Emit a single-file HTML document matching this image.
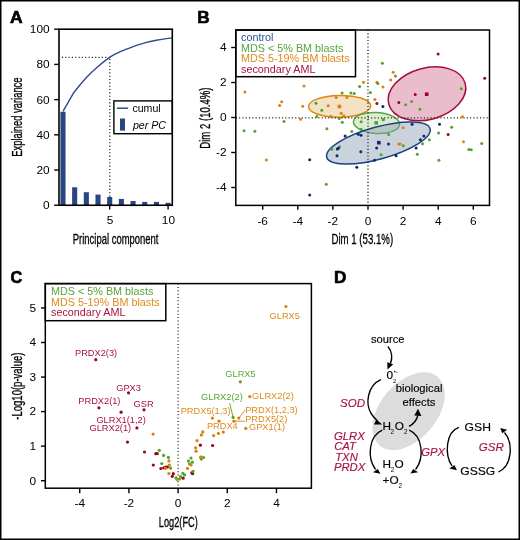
<!DOCTYPE html>
<html><head><meta charset="utf-8"><style>
html,body{margin:0;padding:0;background:#fff;}
svg{display:block;will-change:transform;}
text{font-family:"Liberation Sans", sans-serif;}
</style></head><body>
<svg width="520" height="540" viewBox="0 0 520 540" font-family='"Liberation Sans", sans-serif'>
<rect width="520" height="540" fill="#fff"/>
<rect x="0.75" y="0.75" width="518.5" height="538.5" fill="none" stroke="#000" stroke-width="1.5"/>
<text transform="translate(9.90,22.80) scale(1.12,1)" font-size="15.6" fill="#000" font-weight="bold" stroke="#000" stroke-width="0.6">A</text>
<text transform="translate(197.20,23.10) scale(1.1,1)" font-size="15.6" fill="#000" font-weight="bold" stroke="#000" stroke-width="0.6">B</text>
<text transform="translate(10.40,283.10) scale(1.04,1)" font-size="15.6" fill="#000" font-weight="bold" stroke="#000" stroke-width="0.6">C</text>
<text transform="translate(333.90,283.00) scale(1.1,1)" font-size="15.6" fill="#000" font-weight="bold" stroke="#000" stroke-width="0.6">D</text>
<line x1="61.90" y1="57.40" x2="109.70" y2="57.40" stroke="#222" stroke-width="1.3" stroke-dasharray="1.1 2.23"/>
<line x1="109.80" y1="59.00" x2="109.80" y2="205.00" stroke="#222" stroke-width="1.3" stroke-dasharray="1.1 2.23"/>
<rect x="60.43" y="111.77" width="5.1" height="93.48" fill="#2a4682"/>
<rect x="72.11" y="187.29" width="5.1" height="17.96" fill="#2a4682"/>
<rect x="83.79" y="192.22" width="5.1" height="13.03" fill="#2a4682"/>
<rect x="95.47" y="194.60" width="5.1" height="10.65" fill="#2a4682"/>
<rect x="107.15" y="196.99" width="5.1" height="8.26" fill="#2a4682"/>
<rect x="118.83" y="198.91" width="5.1" height="6.34" fill="#2a4682"/>
<rect x="130.51" y="201.02" width="5.1" height="4.23" fill="#2a4682"/>
<rect x="142.19" y="201.91" width="5.1" height="3.34" fill="#2a4682"/>
<rect x="153.87" y="201.91" width="5.1" height="3.34" fill="#2a4682"/>
<rect x="165.55" y="202.79" width="5.1" height="2.46" fill="#2a4682"/>
<clipPath id="clipA"><rect x="59" y="29" width="113.3" height="176.3"/></clipPath>
<path d="M63.0,111.4 L73.6,92.8 L73.60,92.80 C75.73,90.27 82.33,81.98 86.40,77.60 C90.47,73.22 94.12,69.88 98.00,66.50 C101.88,63.12 105.80,59.85 109.70,57.30 C113.60,54.75 117.50,52.97 121.40,51.20 C125.30,49.43 129.22,48.08 133.10,46.70 C136.98,45.32 140.82,43.98 144.70,42.90 C148.58,41.82 152.50,40.95 156.40,40.20 C160.30,39.45 164.20,38.90 168.10,38.40 C172.00,37.90 177.85,37.40 179.80,37.20" fill="none" stroke="#2e4c8c" stroke-width="1.4" stroke-linejoin="round" clip-path="url(#clipA)"/>
<rect x="113.9" y="100.9" width="58.4" height="32.8" fill="#fff" stroke="#000" stroke-width="1.4"/>
<line x1="116.90" y1="108.20" x2="128.10" y2="108.20" stroke="#2e4c8c" stroke-width="1.5"/>
<rect x="120" y="118.5" width="5" height="12.1" fill="#2a4682"/>
<text transform="translate(132.40,111.90)" font-size="10.6" fill="#000">cumul</text>
<text transform="translate(132.90,128.90)" font-size="10.6" fill="#000" font-style="italic">per PC</text>
<rect x="59.0" y="29.2" width="113.30" height="176.05" fill="none" stroke="#000" stroke-width="1.6"/>
<line x1="54.20" y1="205.25" x2="59.00" y2="205.25" stroke="#000" stroke-width="1.4"/>
<text transform="translate(49.60,209.15) scale(1.1,1)" font-size="10.8" fill="#000" text-anchor="end">0</text>
<line x1="54.20" y1="170.04" x2="59.00" y2="170.04" stroke="#000" stroke-width="1.4"/>
<text transform="translate(49.60,173.94) scale(1.1,1)" font-size="10.8" fill="#000" text-anchor="end">20</text>
<line x1="54.20" y1="134.83" x2="59.00" y2="134.83" stroke="#000" stroke-width="1.4"/>
<text transform="translate(49.60,138.73) scale(1.1,1)" font-size="10.8" fill="#000" text-anchor="end">40</text>
<line x1="54.20" y1="99.62" x2="59.00" y2="99.62" stroke="#000" stroke-width="1.4"/>
<text transform="translate(49.60,103.52) scale(1.1,1)" font-size="10.8" fill="#000" text-anchor="end">60</text>
<line x1="54.20" y1="64.41" x2="59.00" y2="64.41" stroke="#000" stroke-width="1.4"/>
<text transform="translate(49.60,68.31) scale(1.1,1)" font-size="10.8" fill="#000" text-anchor="end">80</text>
<line x1="54.20" y1="29.20" x2="59.00" y2="29.20" stroke="#000" stroke-width="1.4"/>
<text transform="translate(49.60,33.10) scale(1.1,1)" font-size="10.8" fill="#000" text-anchor="end">100</text>
<line x1="109.70" y1="205.25" x2="109.70" y2="209.50" stroke="#000" stroke-width="1.4"/>
<text transform="translate(110.00,223.90) scale(1.1,1)" font-size="10.8" fill="#000" text-anchor="middle">5</text>
<line x1="168.10" y1="205.25" x2="168.10" y2="209.50" stroke="#000" stroke-width="1.4"/>
<text transform="translate(168.40,223.90) scale(1.1,1)" font-size="10.8" fill="#000" text-anchor="middle">10</text>
<text transform="translate(115.60,243.90) scale(0.677,1)" font-size="14" fill="#000" text-anchor="middle" stroke="#000" stroke-width="0.3">Principal component</text>
<text transform="translate(22.20,117.10) rotate(-90) scale(0.67,1)" font-size="14" fill="#000" text-anchor="middle" stroke="#000" stroke-width="0.3">Explained variance</text>
<ellipse cx="339.6" cy="106.3" rx="31.1" ry="10.9" transform="rotate(-0.8 339.6 106.3)" fill="#ebca94" fill-opacity="0.55" stroke="#dc8510" stroke-width="1.5"/>
<ellipse cx="376.5" cy="123.0" rx="23.1" ry="10.4" transform="rotate(3.6 376.5 123.0)" fill="#b9d9a6" fill-opacity="0.5" stroke="#5aa53f" stroke-width="1.5"/>
<ellipse cx="378.4" cy="143.0" rx="53.6" ry="16.0" transform="rotate(-15.35 378.4 143.0)" fill="#899bb6" fill-opacity="0.45" stroke="#1f3f80" stroke-width="1.5"/>
<ellipse cx="427.0" cy="93.8" rx="39.6" ry="25.8" transform="rotate(-15.2 427.0 93.8)" fill="#d47c98" fill-opacity="0.5" stroke="#a80d3a" stroke-width="1.5"/>
<line x1="235.80" y1="117.80" x2="489.50" y2="117.80" stroke="#222" stroke-width="1.3" stroke-dasharray="1.1 2.2"/>
<line x1="368.00" y1="30.00" x2="368.00" y2="205.40" stroke="#222" stroke-width="1.3" stroke-dasharray="1.1 2.2"/>
<circle cx="244.9" cy="92.1" r="1.5" fill="#db8008"/>
<circle cx="304.0" cy="86.0" r="1.5" fill="#db8008"/>
<circle cx="281.7" cy="101.7" r="1.5" fill="#db8008"/>
<circle cx="279.6" cy="105.5" r="1.5" fill="#db8008"/>
<circle cx="302.7" cy="106.3" r="1.5" fill="#db8008"/>
<circle cx="300.5" cy="119.3" r="1.5" fill="#db8008"/>
<circle cx="266.4" cy="160.0" r="1.5" fill="#db8008"/>
<circle cx="363.5" cy="82.3" r="1.5" fill="#db8008"/>
<circle cx="376.9" cy="82.3" r="1.5" fill="#db8008"/>
<circle cx="374.9" cy="99.4" r="1.5" fill="#db8008"/>
<circle cx="336.2" cy="97.5" r="1.5" fill="#db8008"/>
<circle cx="346.9" cy="97.6" r="1.5" fill="#db8008"/>
<circle cx="328.2" cy="105.7" r="1.5" fill="#db8008"/>
<circle cx="341.2" cy="113.2" r="1.5" fill="#db8008"/>
<circle cx="343.8" cy="115.8" r="1.5" fill="#db8008"/>
<circle cx="330.8" cy="116.3" r="1.5" fill="#db8008"/>
<circle cx="393.2" cy="72.3" r="1.5" fill="#db8008"/>
<circle cx="390.7" cy="80.1" r="1.5" fill="#db8008"/>
<circle cx="383.0" cy="87.1" r="1.5" fill="#db8008"/>
<circle cx="403.1" cy="127.7" r="1.5" fill="#db8008"/>
<circle cx="462.5" cy="116.8" r="1.5" fill="#db8008"/>
<circle cx="398.9" cy="143.9" r="1.5" fill="#db8008"/>
<circle cx="463.5" cy="141.7" r="1.5" fill="#db8008"/>
<circle cx="400.0" cy="144.0" r="1.5" fill="#db8008"/>
<circle cx="316.0" cy="103.3" r="1.5" fill="#4ea52a"/>
<circle cx="316.8" cy="116.4" r="1.5" fill="#4ea52a"/>
<circle cx="284.0" cy="121.4" r="1.5" fill="#4ea52a"/>
<circle cx="244.1" cy="130.7" r="1.5" fill="#4ea52a"/>
<circle cx="254.9" cy="131.2" r="1.5" fill="#4ea52a"/>
<circle cx="359.6" cy="86.4" r="1.5" fill="#4ea52a"/>
<circle cx="342.1" cy="92.9" r="1.5" fill="#4ea52a"/>
<circle cx="350.9" cy="93.1" r="1.5" fill="#4ea52a"/>
<circle cx="354.2" cy="93.4" r="1.5" fill="#4ea52a"/>
<circle cx="370.4" cy="92.5" r="1.5" fill="#4ea52a"/>
<circle cx="377.9" cy="83.6" r="1.5" fill="#4ea52a"/>
<circle cx="321.8" cy="110.2" r="1.5" fill="#4ea52a"/>
<circle cx="339.1" cy="118.5" r="1.5" fill="#4ea52a"/>
<circle cx="342.3" cy="122.3" r="1.5" fill="#4ea52a"/>
<circle cx="361.2" cy="121.7" r="1.5" fill="#4ea52a"/>
<circle cx="326.9" cy="128.8" r="1.5" fill="#4ea52a"/>
<circle cx="351.8" cy="131.6" r="1.5" fill="#4ea52a"/>
<circle cx="361.1" cy="129.3" r="1.5" fill="#4ea52a"/>
<circle cx="383.1" cy="119.7" r="1.5" fill="#4ea52a"/>
<circle cx="388.7" cy="134.4" r="1.5" fill="#4ea52a"/>
<circle cx="382.4" cy="63.3" r="1.5" fill="#4ea52a"/>
<circle cx="395.4" cy="76.1" r="1.5" fill="#4ea52a"/>
<circle cx="461.2" cy="88.8" r="1.5" fill="#4ea52a"/>
<circle cx="411.6" cy="101.4" r="1.5" fill="#4ea52a"/>
<circle cx="405.7" cy="104.8" r="1.5" fill="#4ea52a"/>
<circle cx="419.9" cy="109.3" r="1.5" fill="#4ea52a"/>
<circle cx="383.5" cy="119.4" r="1.5" fill="#4ea52a"/>
<circle cx="451.6" cy="127.2" r="1.5" fill="#4ea52a"/>
<circle cx="438.6" cy="132.9" r="1.5" fill="#4ea52a"/>
<circle cx="429.4" cy="139.8" r="1.5" fill="#4ea52a"/>
<circle cx="422.5" cy="143.8" r="1.5" fill="#4ea52a"/>
<circle cx="481.7" cy="143.4" r="1.5" fill="#4ea52a"/>
<circle cx="403.3" cy="145.8" r="1.5" fill="#4ea52a"/>
<circle cx="468.9" cy="149.5" r="1.5" fill="#4ea52a"/>
<circle cx="471.3" cy="149.7" r="1.5" fill="#4ea52a"/>
<circle cx="417.3" cy="154.3" r="1.5" fill="#4ea52a"/>
<circle cx="438.9" cy="160.2" r="1.5" fill="#4ea52a"/>
<circle cx="331.8" cy="149.3" r="1.5" fill="#4ea52a"/>
<circle cx="339.6" cy="146.7" r="1.5" fill="#4ea52a"/>
<circle cx="381.1" cy="154.8" r="1.5" fill="#4ea52a"/>
<circle cx="326.3" cy="184.3" r="1.5" fill="#4ea52a"/>
<circle cx="309.7" cy="159.7" r="1.5" fill="#0b2a6b"/>
<circle cx="309.7" cy="195.1" r="1.5" fill="#0b2a6b"/>
<circle cx="345.1" cy="135.9" r="1.5" fill="#0b2a6b"/>
<circle cx="358.3" cy="134.3" r="1.5" fill="#0b2a6b"/>
<circle cx="361.0" cy="135.3" r="1.5" fill="#0b2a6b"/>
<circle cx="388.5" cy="143.9" r="1.5" fill="#0b2a6b"/>
<circle cx="376.6" cy="147.9" r="1.5" fill="#0b2a6b"/>
<circle cx="337.3" cy="149.1" r="1.5" fill="#0b2a6b"/>
<circle cx="338.3" cy="148.2" r="1.5" fill="#0b2a6b"/>
<circle cx="360.8" cy="151.7" r="1.5" fill="#0b2a6b"/>
<circle cx="337.0" cy="155.8" r="1.5" fill="#0b2a6b"/>
<circle cx="396.1" cy="155.7" r="1.5" fill="#0b2a6b"/>
<circle cx="374.5" cy="160.3" r="1.5" fill="#0b2a6b"/>
<circle cx="356.8" cy="167.3" r="1.5" fill="#0b2a6b"/>
<circle cx="382.9" cy="106.5" r="1.5" fill="#0b2a6b"/>
<circle cx="412.1" cy="124.2" r="1.5" fill="#0b2a6b"/>
<circle cx="439.5" cy="124.2" r="1.5" fill="#0b2a6b"/>
<circle cx="423.9" cy="136.0" r="1.5" fill="#0b2a6b"/>
<circle cx="420.4" cy="139.8" r="1.5" fill="#0b2a6b"/>
<circle cx="416.1" cy="147.9" r="1.5" fill="#0b2a6b"/>
<circle cx="438.1" cy="54.0" r="1.5" fill="#9b0426"/>
<circle cx="484.7" cy="78.3" r="1.5" fill="#9b0426"/>
<circle cx="415.2" cy="94.6" r="1.5" fill="#9b0426"/>
<circle cx="398.8" cy="102.5" r="1.5" fill="#9b0426"/>
<circle cx="376.9" cy="103.4" r="1.5" fill="#9b0426"/>
<circle cx="448.1" cy="134.6" r="1.5" fill="#9b0426"/>
<rect x="337.6" y="104.7" width="3.6" height="3.6" fill="#db8008"/>
<rect x="374.4" y="121.1" width="3.6" height="3.6" fill="#4ea52a"/>
<rect x="377.0" y="140.9" width="3.6" height="3.6" fill="#0b2a6b"/>
<rect x="424.9" y="92.4" width="3.6" height="3.6" fill="#9b0426"/>
<rect x="235.8" y="30.0" width="119.7" height="46.7" fill="#fff" stroke="#000" stroke-width="1.5"/>
<text transform="translate(241.00,40.70) scale(1.03,1)" font-size="10.5" fill="#2f4f92">control</text>
<text transform="translate(241.00,51.50) scale(1.03,1)" font-size="10.5" fill="#56a53a">MDS &lt; 5% BM blasts</text>
<text transform="translate(241.00,62.30) scale(1.03,1)" font-size="10.5" fill="#de8a1c">MDS 5-19% BM blasts</text>
<text transform="translate(241.00,73.00) scale(1.03,1)" font-size="10.5" fill="#a8123f">secondary AML</text>
<rect x="235.8" y="30.0" width="253.7" height="175.4" fill="none" stroke="#000" stroke-width="1.5"/>
<line x1="231.20" y1="187.50" x2="235.80" y2="187.50" stroke="#000" stroke-width="1.4"/>
<text transform="translate(226.60,191.30) scale(1.1,1)" font-size="10.8" fill="#000" text-anchor="end">-4</text>
<line x1="231.20" y1="152.50" x2="235.80" y2="152.50" stroke="#000" stroke-width="1.4"/>
<text transform="translate(226.60,156.30) scale(1.1,1)" font-size="10.8" fill="#000" text-anchor="end">-2</text>
<line x1="231.20" y1="117.50" x2="235.80" y2="117.50" stroke="#000" stroke-width="1.4"/>
<text transform="translate(226.60,121.30) scale(1.1,1)" font-size="10.8" fill="#000" text-anchor="end">0</text>
<line x1="231.20" y1="82.50" x2="235.80" y2="82.50" stroke="#000" stroke-width="1.4"/>
<text transform="translate(226.60,86.30) scale(1.1,1)" font-size="10.8" fill="#000" text-anchor="end">2</text>
<line x1="231.20" y1="47.50" x2="235.80" y2="47.50" stroke="#000" stroke-width="1.4"/>
<text transform="translate(226.60,51.30) scale(1.1,1)" font-size="10.8" fill="#000" text-anchor="end">4</text>
<line x1="262.70" y1="205.40" x2="262.70" y2="209.70" stroke="#000" stroke-width="1.4"/>
<text transform="translate(262.70,224.60) scale(1.1,1)" font-size="10.8" fill="#000" text-anchor="middle">-6</text>
<line x1="297.80" y1="205.40" x2="297.80" y2="209.70" stroke="#000" stroke-width="1.4"/>
<text transform="translate(297.80,224.60) scale(1.1,1)" font-size="10.8" fill="#000" text-anchor="middle">-4</text>
<line x1="332.90" y1="205.40" x2="332.90" y2="209.70" stroke="#000" stroke-width="1.4"/>
<text transform="translate(332.90,224.60) scale(1.1,1)" font-size="10.8" fill="#000" text-anchor="middle">-2</text>
<line x1="368.00" y1="205.40" x2="368.00" y2="209.70" stroke="#000" stroke-width="1.4"/>
<text transform="translate(368.00,224.60) scale(1.1,1)" font-size="10.8" fill="#000" text-anchor="middle">0</text>
<line x1="403.10" y1="205.40" x2="403.10" y2="209.70" stroke="#000" stroke-width="1.4"/>
<text transform="translate(403.10,224.60) scale(1.1,1)" font-size="10.8" fill="#000" text-anchor="middle">2</text>
<line x1="438.20" y1="205.40" x2="438.20" y2="209.70" stroke="#000" stroke-width="1.4"/>
<text transform="translate(438.20,224.60) scale(1.1,1)" font-size="10.8" fill="#000" text-anchor="middle">4</text>
<line x1="473.30" y1="205.40" x2="473.30" y2="209.70" stroke="#000" stroke-width="1.4"/>
<text transform="translate(473.30,224.60) scale(1.1,1)" font-size="10.8" fill="#000" text-anchor="middle">6</text>
<text transform="translate(362.30,243.70) scale(0.69,1)" font-size="14" fill="#000" text-anchor="middle" stroke="#000" stroke-width="0.3">Dim 1 (53.1%)</text>
<text transform="translate(209.80,118.10) rotate(-90) scale(0.685,1)" font-size="14" fill="#000" text-anchor="middle" stroke="#000" stroke-width="0.3">Dim 2 (10.4%)</text>
<line x1="178.10" y1="283.60" x2="178.10" y2="488.20" stroke="#222" stroke-width="1.3" stroke-dasharray="1 2.35"/>
<circle cx="95.8" cy="359.7" r="1.6" fill="#9b0426"/>
<circle cx="128.5" cy="392.8" r="1.6" fill="#9b0426"/>
<circle cx="98.9" cy="407.8" r="1.6" fill="#9b0426"/>
<circle cx="144.0" cy="409.8" r="1.6" fill="#9b0426"/>
<circle cx="121.1" cy="412.2" r="1.6" fill="#9b0426"/>
<circle cx="136.9" cy="427.9" r="1.6" fill="#9b0426"/>
<circle cx="127.5" cy="442.1" r="1.6" fill="#9b0426"/>
<circle cx="144.5" cy="452.0" r="1.6" fill="#9b0426"/>
<circle cx="155.8" cy="453.7" r="1.6" fill="#9b0426"/>
<circle cx="157.3" cy="453.6" r="1.6" fill="#9b0426"/>
<circle cx="153.3" cy="465.0" r="1.6" fill="#9b0426"/>
<circle cx="160.9" cy="468.5" r="1.6" fill="#9b0426"/>
<circle cx="163.8" cy="467.8" r="1.6" fill="#9b0426"/>
<circle cx="166.0" cy="467.1" r="1.6" fill="#9b0426"/>
<circle cx="167.5" cy="467.0" r="1.6" fill="#9b0426"/>
<circle cx="173.3" cy="473.7" r="1.6" fill="#9b0426"/>
<circle cx="172.3" cy="476.3" r="1.6" fill="#9b0426"/>
<circle cx="183.1" cy="478.2" r="1.6" fill="#9b0426"/>
<circle cx="192.7" cy="473.6" r="1.6" fill="#9b0426"/>
<circle cx="191.8" cy="472.9" r="1.6" fill="#9b0426"/>
<circle cx="200.4" cy="445.2" r="1.6" fill="#9b0426"/>
<circle cx="212.6" cy="445.5" r="1.6" fill="#9b0426"/>
<circle cx="240.4" cy="381.8" r="1.6" fill="#4ea52a"/>
<circle cx="233.1" cy="417.3" r="1.6" fill="#4ea52a"/>
<circle cx="200.7" cy="457.2" r="1.6" fill="#4ea52a"/>
<circle cx="203.6" cy="457.5" r="1.6" fill="#4ea52a"/>
<circle cx="201.3" cy="459.1" r="1.6" fill="#4ea52a"/>
<circle cx="191.0" cy="458.1" r="1.6" fill="#4ea52a"/>
<circle cx="188.4" cy="461.1" r="1.6" fill="#4ea52a"/>
<circle cx="192.3" cy="462.2" r="1.6" fill="#4ea52a"/>
<circle cx="189.6" cy="464.0" r="1.6" fill="#4ea52a"/>
<circle cx="159.3" cy="450.3" r="1.6" fill="#4ea52a"/>
<circle cx="163.6" cy="455.4" r="1.6" fill="#4ea52a"/>
<circle cx="168.4" cy="457.4" r="1.6" fill="#4ea52a"/>
<circle cx="161.8" cy="463.5" r="1.6" fill="#4ea52a"/>
<circle cx="170.6" cy="468.1" r="1.6" fill="#4ea52a"/>
<circle cx="182.9" cy="473.3" r="1.6" fill="#4ea52a"/>
<circle cx="184.6" cy="475.0" r="1.6" fill="#4ea52a"/>
<circle cx="193.0" cy="471.3" r="1.6" fill="#4ea52a"/>
<circle cx="180.6" cy="476.7" r="1.6" fill="#4ea52a"/>
<circle cx="176.0" cy="477.9" r="1.6" fill="#4ea52a"/>
<circle cx="179.4" cy="479.0" r="1.6" fill="#4ea52a"/>
<circle cx="285.9" cy="306.5" r="1.6" fill="#db8008"/>
<circle cx="249.8" cy="396.6" r="1.6" fill="#db8008"/>
<circle cx="212.4" cy="418.1" r="1.6" fill="#db8008"/>
<circle cx="219.1" cy="421.2" r="1.6" fill="#db8008"/>
<circle cx="238.8" cy="418.1" r="1.6" fill="#db8008"/>
<circle cx="233.9" cy="421.2" r="1.6" fill="#db8008"/>
<circle cx="245.8" cy="428.4" r="1.6" fill="#db8008"/>
<circle cx="202.8" cy="431.9" r="1.6" fill="#db8008"/>
<circle cx="201.4" cy="434.9" r="1.6" fill="#db8008"/>
<circle cx="213.7" cy="435.7" r="1.6" fill="#db8008"/>
<circle cx="218.4" cy="433.4" r="1.6" fill="#db8008"/>
<circle cx="223.3" cy="432.1" r="1.6" fill="#db8008"/>
<circle cx="197.0" cy="440.7" r="1.6" fill="#db8008"/>
<circle cx="195.6" cy="447.8" r="1.6" fill="#db8008"/>
<circle cx="196.1" cy="451.2" r="1.6" fill="#db8008"/>
<circle cx="201.5" cy="457.2" r="1.6" fill="#db8008"/>
<circle cx="191.0" cy="464.9" r="1.6" fill="#db8008"/>
<circle cx="187.5" cy="468.4" r="1.6" fill="#db8008"/>
<circle cx="153.1" cy="434.1" r="1.6" fill="#db8008"/>
<circle cx="169.0" cy="460.9" r="1.6" fill="#db8008"/>
<circle cx="169.3" cy="465.2" r="1.6" fill="#db8008"/>
<circle cx="165.5" cy="468.4" r="1.6" fill="#db8008"/>
<circle cx="168.9" cy="473.5" r="1.6" fill="#db8008"/>
<circle cx="177.0" cy="479.6" r="1.6" fill="#db8008"/>
<line x1="229.70" y1="403.00" x2="233.10" y2="417.30" stroke="#4ea52a" stroke-width="0.9"/>
<line x1="238.80" y1="418.10" x2="245.30" y2="410.00" stroke="#db8008" stroke-width="0.9"/>
<line x1="233.90" y1="421.20" x2="245.00" y2="421.20" stroke="#db8008" stroke-width="0.9"/>
<text transform="translate(75.00,356.10)" font-size="9.25" fill="#a8123f">PRDX2(3)</text>
<text transform="translate(116.20,390.50)" font-size="9.25" fill="#a8123f">GPX3</text>
<text transform="translate(78.30,403.70)" font-size="9.25" fill="#a8123f">PRDX2(1)</text>
<text transform="translate(133.60,406.60)" font-size="9.25" fill="#a8123f">GSR</text>
<text transform="translate(96.40,422.70)" font-size="9.25" fill="#a8123f">GLRX1(1,2)</text>
<text transform="translate(89.50,431.40)" font-size="9.25" fill="#a8123f">GLRX2(1)</text>
<text transform="translate(269.60,319.00)" font-size="9.25" fill="#de8a1c">GLRX5</text>
<text transform="translate(225.30,377.00)" font-size="9.25" fill="#56a53a">GLRX5</text>
<text transform="translate(201.10,400.30)" font-size="9.25" fill="#56a53a">GLRX2(2)</text>
<text transform="translate(252.10,398.80)" font-size="9.25" fill="#de8a1c">GLRX2(2)</text>
<text transform="translate(180.70,413.60)" font-size="9.25" fill="#de8a1c">PRDX5(1,3)</text>
<text transform="translate(245.20,412.80)" font-size="9.25" fill="#de8a1c">PRDX(1,2,3)</text>
<text transform="translate(245.20,421.50)" font-size="9.25" fill="#de8a1c">PRDX5(2)</text>
<text transform="translate(206.90,429.40)" font-size="9.25" fill="#de8a1c">PRDX4</text>
<text transform="translate(249.00,430.20)" font-size="9.25" fill="#de8a1c">GPX1(1)</text>
<rect x="45.3" y="283.6" width="120.5" height="37.1" fill="#fff" stroke="#000" stroke-width="1.5"/>
<text transform="translate(51.00,294.90) scale(1.03,1)" font-size="10.5" fill="#56a53a">MDS &lt; 5% BM blasts</text>
<text transform="translate(51.00,305.60) scale(1.03,1)" font-size="10.5" fill="#de8a1c">MDS 5-19% BM blasts</text>
<text transform="translate(51.00,316.40) scale(1.03,1)" font-size="10.5" fill="#a8123f">secondary AML</text>
<rect x="45.3" y="283.6" width="266.1" height="204.6" fill="none" stroke="#000" stroke-width="1.5"/>
<line x1="41.00" y1="480.70" x2="45.30" y2="480.70" stroke="#000" stroke-width="1.4"/>
<text transform="translate(36.00,484.50) scale(1.1,1)" font-size="10.8" fill="#000" text-anchor="end">0</text>
<line x1="41.00" y1="446.15" x2="45.30" y2="446.15" stroke="#000" stroke-width="1.4"/>
<text transform="translate(36.00,449.95) scale(1.1,1)" font-size="10.8" fill="#000" text-anchor="end">1</text>
<line x1="41.00" y1="411.60" x2="45.30" y2="411.60" stroke="#000" stroke-width="1.4"/>
<text transform="translate(36.00,415.40) scale(1.1,1)" font-size="10.8" fill="#000" text-anchor="end">2</text>
<line x1="41.00" y1="377.05" x2="45.30" y2="377.05" stroke="#000" stroke-width="1.4"/>
<text transform="translate(36.00,380.85) scale(1.1,1)" font-size="10.8" fill="#000" text-anchor="end">3</text>
<line x1="41.00" y1="342.50" x2="45.30" y2="342.50" stroke="#000" stroke-width="1.4"/>
<text transform="translate(36.00,346.30) scale(1.1,1)" font-size="10.8" fill="#000" text-anchor="end">4</text>
<line x1="41.00" y1="307.95" x2="45.30" y2="307.95" stroke="#000" stroke-width="1.4"/>
<text transform="translate(36.00,311.75) scale(1.1,1)" font-size="10.8" fill="#000" text-anchor="end">5</text>
<line x1="79.74" y1="488.20" x2="79.74" y2="493.20" stroke="#000" stroke-width="1.4"/>
<text transform="translate(79.74,506.90) scale(1.1,1)" font-size="10.8" fill="#000" text-anchor="middle">-4</text>
<line x1="128.92" y1="488.20" x2="128.92" y2="493.20" stroke="#000" stroke-width="1.4"/>
<text transform="translate(128.92,506.90) scale(1.1,1)" font-size="10.8" fill="#000" text-anchor="middle">-2</text>
<line x1="178.10" y1="488.20" x2="178.10" y2="493.20" stroke="#000" stroke-width="1.4"/>
<text transform="translate(178.10,506.90) scale(1.1,1)" font-size="10.8" fill="#000" text-anchor="middle">0</text>
<line x1="227.28" y1="488.20" x2="227.28" y2="493.20" stroke="#000" stroke-width="1.4"/>
<text transform="translate(227.28,506.90) scale(1.1,1)" font-size="10.8" fill="#000" text-anchor="middle">2</text>
<line x1="276.46" y1="488.20" x2="276.46" y2="493.20" stroke="#000" stroke-width="1.4"/>
<text transform="translate(276.46,506.90) scale(1.1,1)" font-size="10.8" fill="#000" text-anchor="middle">4</text>
<text transform="translate(178.30,526.60) scale(0.66,1)" font-size="14" fill="#000" text-anchor="middle" stroke="#000" stroke-width="0.3">Log2(FC)</text>
<text transform="translate(21.80,386.10) rotate(-90) scale(0.68,1)" font-size="14" fill="#000" text-anchor="middle" stroke="#000" stroke-width="0.3">-Log10(p-value)</text>
<ellipse cx="408.6" cy="411.2" rx="44.9" ry="28.4" transform="rotate(-49.6 408.6 411.2)" fill="#dcdcdd"/>
<text transform="translate(370.90,342.60) scale(0.975,1)" font-size="11.5" fill="#000" stroke="#000" stroke-width="0.15">source</text>
<text transform="translate(386.60,378.70)" font-size="11.8" fill="#000" stroke="#000" stroke-width="0.2">0</text>
<text transform="translate(392.90,382.60)" font-size="5.8" fill="#000">2</text>
<circle cx="394.7" cy="371.6" r="0.75" fill="#000"/>
<line x1="395.60" y1="372.20" x2="397.90" y2="372.20" stroke="#555" stroke-width="0.8"/>
<text transform="translate(395.70,391.50) scale(0.975,1)" font-size="11.5" fill="#000" stroke="#000" stroke-width="0.15">biological</text>
<text transform="translate(402.60,406.10) scale(0.975,1)" font-size="11.5" fill="#000" stroke="#000" stroke-width="0.15">effects</text>
<text transform="translate(382.40,429.80)" font-size="11.8" fill="#000" stroke="#000" stroke-width="0.15">H</text>
<text transform="translate(390.60,433.60)" font-size="6.3" fill="#000">2</text>
<text transform="translate(394.70,430.00)" font-size="11.8" fill="#000" stroke="#000" stroke-width="0.15">O</text>
<text transform="translate(403.90,433.60)" font-size="6.3" fill="#000">2</text>
<text transform="translate(382.40,467.50)" font-size="11.8" fill="#000" stroke="#000" stroke-width="0.15">H</text>
<text transform="translate(390.80,471.70)" font-size="6.3" fill="#000">2</text>
<text transform="translate(394.40,467.60)" font-size="11.8" fill="#000" stroke="#000" stroke-width="0.15">O</text>
<text transform="translate(382.60,484.00)" font-size="11.8" fill="#000" stroke="#000" stroke-width="0.15">+O</text>
<text transform="translate(398.60,488.00)" font-size="6.3" fill="#000">2</text>
<text transform="translate(464.60,430.90) scale(1.03,1)" font-size="11.8" fill="#000" stroke="#000" stroke-width="0.15">GSH</text>
<text transform="translate(460.20,474.90) scale(1.03,1)" font-size="11.8" fill="#000" stroke="#000" stroke-width="0.15">GSSG</text>
<text transform="translate(340.10,406.90)" font-size="11.6" fill="#a8123f" font-style="italic" stroke="#a8123f" stroke-width="0.15">SOD</text>
<text transform="translate(333.90,440.20)" font-size="11.3" fill="#a8123f" font-style="italic" stroke="#a8123f" stroke-width="0.15">GLRX</text>
<text transform="translate(334.20,450.20)" font-size="11.3" fill="#a8123f" font-style="italic" stroke="#a8123f" stroke-width="0.15">CAT</text>
<text transform="translate(335.20,460.60)" font-size="11.3" fill="#a8123f" font-style="italic" stroke="#a8123f" stroke-width="0.15">TXN</text>
<text transform="translate(333.90,471.00)" font-size="11.3" fill="#a8123f" font-style="italic" stroke="#a8123f" stroke-width="0.15">PRDX</text>
<text transform="translate(421.30,455.90)" font-size="11.3" fill="#a8123f" font-style="italic" stroke="#a8123f" stroke-width="0.15">GPX</text>
<text transform="translate(478.80,451.00)" font-size="11.6" fill="#a8123f" font-style="italic" stroke="#a8123f" stroke-width="0.15">GSR</text>
<path d="M387.9,346.5 C392.3,351.5 392.6,358.5 390.4,363.4" fill="none" stroke="#000" stroke-width="1.35"/>
<path d="M387.2,362.2 L393.2,364.3 L387.6,369.4 Z" fill="#000"/>
<path d="M380.9,379.7 C367.5,385.5 364.8,404 371.5,414 C373.3,416.8 375.5,419.2 377.5,421" fill="none" stroke="#000" stroke-width="1.35"/>
<path d="M376.3,419.4 L374.0,424.6 L382.2,424.6 Z" fill="#000"/>
<path d="M409.0,426.4 C413.5,424 416.8,420 417.8,415.5" fill="none" stroke="#000" stroke-width="1.35"/>
<path d="M414.3,415.6 L421.4,416.1 L418.0,408.8 Z" fill="#000"/>
<path d="M382.3,430.2 C368.5,436 367,458 375.5,469.5" fill="none" stroke="#000" stroke-width="1.35"/>
<path d="M373.0,472.3 L377.8,468.9 L380.4,473.7 Z" fill="#000"/>
<path d="M409.2,430.2 C423,436 424.4,458 415.6,469.5" fill="none" stroke="#000" stroke-width="1.35"/>
<path d="M418.1,472.2 L413.2,468.9 L410.5,473.6 Z" fill="#000"/>
<path d="M458.8,427.3 C445.5,432 444.5,455 452.0,465.8" fill="none" stroke="#000" stroke-width="1.35"/>
<path d="M449.4,468.5 L454.4,465.0 L456.9,470.3 Z" fill="#000"/>
<path d="M498.4,472.0 C512.2,466 513.5,443.5 504.5,432.5" fill="none" stroke="#000" stroke-width="1.35"/>
<path d="M507.2,429.7 L502.2,433.3 L500.3,427.9 Z" fill="#000"/>
</svg>
</body></html>
